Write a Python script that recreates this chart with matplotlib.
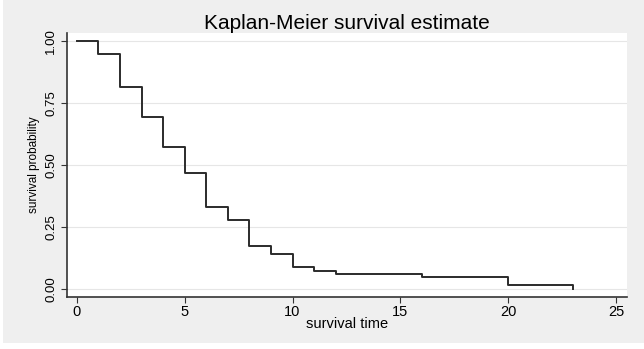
import matplotlib.pyplot as plt
from matplotlib.patches import Rectangle

plt.rcParams['font.family'] = ['Liberation Sans', 'DejaVu Sans']

# survival times (step points) and KM estimate
times = [0, 1, 2, 3, 4, 5, 6, 7, 8, 9, 10, 11, 12, 16, 20, 23]
surv = [1.00, 0.949, 0.816, 0.692, 0.574, 0.468, 0.332, 0.278,
        0.175, 0.141, 0.089, 0.074, 0.062, 0.047, 0.015, 0.0]
xticks = [0, 5, 10, 15, 20, 25]
yticks = [0.00, 0.25, 0.50, 0.75, 1.00]

fig = plt.figure(figsize=(6.44, 3.49), dpi=100)
fig.patch.set_facecolor('white')
# grey graph region with a thin white margin left and bottom
fig.patches.append(Rectangle((3 / 644, 6 / 349), 1, 1, transform=fig.transFigure,
                             facecolor='#efefef', edgecolor='none', zorder=-1))

ax = fig.add_axes([0.104, 0.149, 0.8696, 0.756])
ax.set_facecolor('white')

ax.step(times, surv, where='post', color='#2b2b2b', lw=1.4)

ax.set_xlim(-0.46, 25.51)
ax.set_ylim(-0.032, 1.032)
ax.set_xticks(xticks)
ax.set_yticks(yticks)
ax.set_yticklabels(['%.2f' % v for v in yticks], rotation=90, va='center')
ax.tick_params(axis='x', labelsize=10.5, length=4, color='#333333', pad=2)
ax.tick_params(axis='y', labelsize=9.5, length=4, color='#333333', pad=3)
ax.grid(axis='y', color='#e6e6e6', lw=0.8)
ax.set_axisbelow(True)

for s in ['top', 'right']:
    ax.spines[s].set_visible(False)
for s in ['left', 'bottom']:
    ax.spines[s].set_color('#333333')
    ax.spines[s].set_linewidth(1.2)

ax.set_xlabel('survival time', fontsize=10.5, labelpad=-2)
ax.set_ylabel('survival probability', fontsize=8.5, labelpad=4)
ax.set_title('Kaplan-Meier survival estimate', fontsize=15, pad=3)

fig.savefig('out.png', dpi=100, facecolor=fig.get_facecolor())
